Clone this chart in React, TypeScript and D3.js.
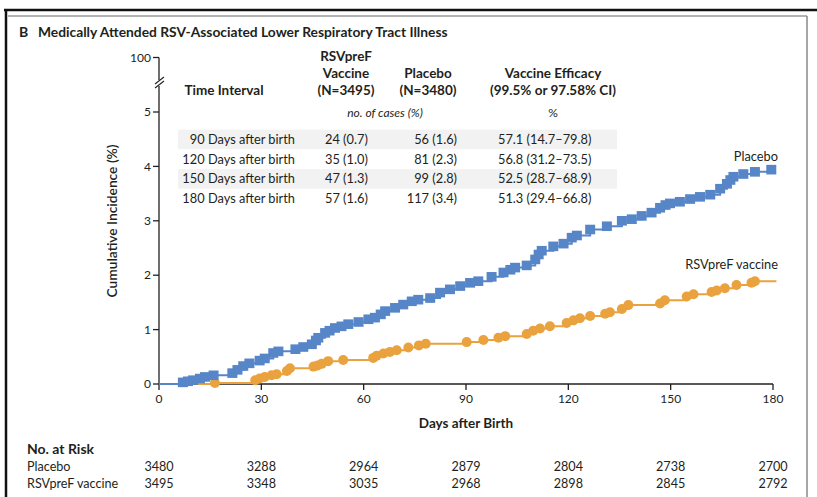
import React from 'react'
import * as d3 from 'd3'

const BLUE = '#5786c8'
const ORANGE = '#e9a23e'
const INK = '#231f20'
const FONT = 'Lato, "Open Sans", sans-serif'

// cumulative incidence (%), [day, value]
const placeboCurve: [number, number][] = [
  [0, 0], [7, 0.03], [8.5, 0.05], [10, 0.07], [12, 0.1], [13.5, 0.13], [16, 0.16],
  [21.5, 0.2], [23, 0.26], [24.7, 0.33], [26.5, 0.38], [29.5, 0.43], [31, 0.47],
  [33.5, 0.57], [35, 0.6], [40, 0.64], [42.3, 0.68], [44.8, 0.73], [46, 0.8],
  [46.7, 0.85], [48.7, 0.94], [50, 0.98], [51.6, 1.03], [53.5, 1.06], [55.5, 1.1],
  [58.5, 1.14], [61.4, 1.19], [63.3, 1.22], [65, 1.28], [66.3, 1.34], [69.2, 1.4],
  [71.6, 1.46], [74.1, 1.52], [76, 1.55], [79.5, 1.58], [82.4, 1.68], [85.3, 1.74],
  [88.3, 1.8], [91.2, 1.86], [93.6, 1.89], [97.5, 1.97], [101, 2.05], [103, 2.1],
  [104.4, 2.14], [107.8, 2.18], [110.3, 2.29], [111.3, 2.38], [112.2, 2.45],
  [115.6, 2.53], [118.6, 2.58], [121, 2.69], [122.5, 2.73], [126.4, 2.84],
  [131.3, 2.9], [135.7, 3.0], [138.6, 3.03], [141.5, 3.09], [144.4, 3.15],
  [146.9, 3.24], [148.5, 3.29], [149.8, 3.32], [152.7, 3.35], [155.7, 3.4],
  [158.6, 3.44], [161.6, 3.48], [164.5, 3.59], [166.5, 3.68], [167.5, 3.75],
  [168.4, 3.81], [171.3, 3.86], [174.7, 3.9], [179.5, 3.94],
]

const vaccineCurve: [number, number][] = [
  [0, 0], [16.4, 0.02], [28.2, 0.07], [29.5, 0.1], [31, 0.13], [33, 0.16],
  [34.5, 0.18], [37.5, 0.24], [38.4, 0.29], [45.3, 0.32], [46.5, 0.34],
  [47.7, 0.37], [49.6, 0.42], [54, 0.44], [62.8, 0.48], [63.8, 0.52], [65.8, 0.56],
  [67.7, 0.59], [69.7, 0.62], [73.1, 0.67], [76.2, 0.71], [78.2, 0.74], [90.2, 0.77],
  [95.1, 0.81], [99.5, 0.85], [101.5, 0.88], [107.8, 0.92], [109.7, 0.98],
  [111.7, 1.02], [114.6, 1.06], [119.5, 1.12], [121.5, 1.17], [123.4, 1.21],
  [126.4, 1.25], [130.8, 1.29], [132.2, 1.32], [135.7, 1.38], [137.6, 1.45],
  [146.9, 1.48], [148.3, 1.54], [154.7, 1.61], [156.7, 1.65], [162, 1.69],
  [163.5, 1.72], [165.9, 1.76], [169.3, 1.82], [173.7, 1.86], [174.7, 1.89],
]
const vaccineEndDay = 181

const xTicks = [0, 30, 60, 90, 120, 150, 180]
const yTicks = [0, 1, 2, 3, 4, 5, 100]

const intervals = ['90 Days after birth', '120 Days after birth', '150 Days after birth', '180 Days after birth']
const vaccineCases = ['24 (0.7)', '35 (1.0)', '47 (1.3)', '57 (1.6)']
const placeboCases = ['56 (1.6)', '81 (2.3)', '99 (2.8)', '117 (3.4)']
const efficacy = ['57.1 (14.7–79.8)', '56.8 (31.2–73.5)', '52.5 (28.7–68.9)', '51.3 (29.4–66.8)']

const placeboRisk = [3480, 3288, 2964, 2879, 2804, 2738, 2700]
const vaccineRisk = [3495, 3348, 3035, 2968, 2898, 2845, 2792]

export default function App() {
  const x = d3.scaleLinear().domain([0, 180]).range([159, 773])
  // broken axis: 0-5 linear, then jump to 100
  const y = d3.scaleLinear().domain([0, 5, 100]).range([384, 112, 57.5])

  const line = d3
    .line<[number, number]>()
    .x(d => x(d[0]))
    .y(d => y(d[1]))
    .curve(d3.curveStepAfter)

  const vacc = [...vaccineCurve, [vaccineEndDay, vaccineCurve[vaccineCurve.length - 1][1]] as [number, number]]

  const rowY = [139.5, 159.3, 179, 199]

  return (
    <svg
      width={817}
      height={497}
      style={{ position: 'absolute', left: 0, top: 0, background: '#fff' }}
      fontFamily={FONT}
      fill={INK}
    >
      {/* frame */}
      <line x1={4} x2={817} y1={10} y2={10} stroke="#111" strokeWidth={2.5} />
      <line x1={6} x2={6} y1={9} y2={497} stroke="#111" strokeWidth={2.5} />
      <line x1={8} x2={807} y1={16} y2={16} stroke="#999" strokeWidth={1.5} />
      <line x1={807} x2={807} y1={16} y2={497} stroke="#888" strokeWidth={1.5} />

      <text x={19} y={37} fontSize={14} fontWeight={700}>B</text>
      <text x={38} y={37} fontSize={13.8} fontWeight={700}>
        Medically Attended RSV-Associated Lower Respiratory Tract Illness
      </text>

      {/* table */}
      {[0, 2].map(i => (
        <rect key={i} x={178} y={rowY[i] - 9.8} width={439} height={19.5} fill="#f2f2f2" />
      ))}
      <g fontWeight={700} fontSize={13.5} textAnchor="middle">
        <text x={346} y={61}>RSVpreF</text>
        <text x={346} y={78}>Vaccine</text>
        <text x={346} y={95}>(N=3495)</text>
        <text x={428} y={78}>Placebo</text>
        <text x={428} y={95}>(N=3480)</text>
        <text x={553} y={78}>Vaccine Efficacy</text>
        <text x={553} y={95}>(99.5% or 97.58% CI)</text>
        <text x={224} y={95}>Time Interval</text>
      </g>
      <text x={385} y={117} fontSize={12} fontStyle="italic" textAnchor="middle">no. of cases (%)</text>
      <text x={553} y={117} fontSize={12} textAnchor="middle">%</text>
      <g fontSize={12.8}>
        {intervals.map((t, i) => (
          <g key={t}>
            <text x={295} y={rowY[i] + 4.4} textAnchor="end">{t}</text>
            <text x={325} y={rowY[i] + 4.4}>{vaccineCases[i]}</text>
            <text x={457} y={rowY[i] + 4.4} textAnchor="end">{placeboCases[i]}</text>
            <text x={498} y={rowY[i] + 4.4}>{efficacy[i]}</text>
          </g>
        ))}
      </g>

      {/* y axis with break */}
      <line x1={159} x2={159} y1={57.5} y2={80} stroke={INK} strokeWidth={1.3} />
      <line x1={159} x2={159} y1={86} y2={384} stroke={INK} strokeWidth={1.3} />
      <line x1={155} x2={164} y1={84} y2={77} stroke={INK} strokeWidth={1.1} />
      <line x1={155} x2={164} y1={88} y2={81} stroke={INK} strokeWidth={1.1} />
      {yTicks.map(t => (
        <g key={t} transform={`translate(0,${y(t)})`}>
          <line x1={153} x2={159} stroke={INK} strokeWidth={1.3} />
          <text x={151} dy="0.35em" fontSize={12} textAnchor="end">{t}</text>
        </g>
      ))}
      <text
        transform="translate(117,221) rotate(-90)"
        fontSize={13.8}
        fontWeight={600}
        textAnchor="middle"
      >
        Cumulative Incidence (%)
      </text>

      {/* x axis */}
      <line x1={159} x2={773} y1={384} y2={384} stroke={INK} strokeWidth={1.3} />
      {xTicks.map(t => (
        <g key={t} transform={`translate(${x(t)},384)`}>
          <line y1={0} y2={6} stroke={INK} strokeWidth={1.3} />
          <text y={19} fontSize={12} textAnchor="middle">{t}</text>
        </g>
      ))}
      <text x={466} y={428} fontSize={13.5} fontWeight={700} textAnchor="middle">Days after Birth</text>

      {/* curves */}
      <path d={line(vacc) ?? ''} fill="none" stroke={ORANGE} strokeWidth={2} />
      {vaccineCurve.slice(1).map((d, i) => (
        <circle key={i} cx={x(d[0])} cy={y(d[1])} r={5} fill={ORANGE} />
      ))}
      <path d={line(placeboCurve) ?? ''} fill="none" stroke={BLUE} strokeWidth={2} />
      {placeboCurve.slice(1).map((d, i) => (
        <rect key={i} x={x(d[0]) - 5} y={y(d[1]) - 4.8} width={10} height={9.6} fill={BLUE} />
      ))}
      <text x={778} y={161} fontSize={12.8} textAnchor="end">Placebo</text>
      <text x={778} y={269} fontSize={12.8} textAnchor="end">RSVpreF vaccine</text>

      {/* number at risk */}
      <text x={27} y={454} fontSize={14} fontWeight={700}>No. at Risk</text>
      <text x={27} y={471} fontSize={12.6}>Placebo</text>
      <text x={27} y={488} fontSize={12.6}>RSVpreF vaccine</text>
      {xTicks.map((t, i) => (
        <g key={t} fontSize={12.6} textAnchor="middle">
          <text x={x(t)} y={471}>{placeboRisk[i]}</text>
          <text x={x(t)} y={488}>{vaccineRisk[i]}</text>
        </g>
      ))}
    </svg>
  )
}
